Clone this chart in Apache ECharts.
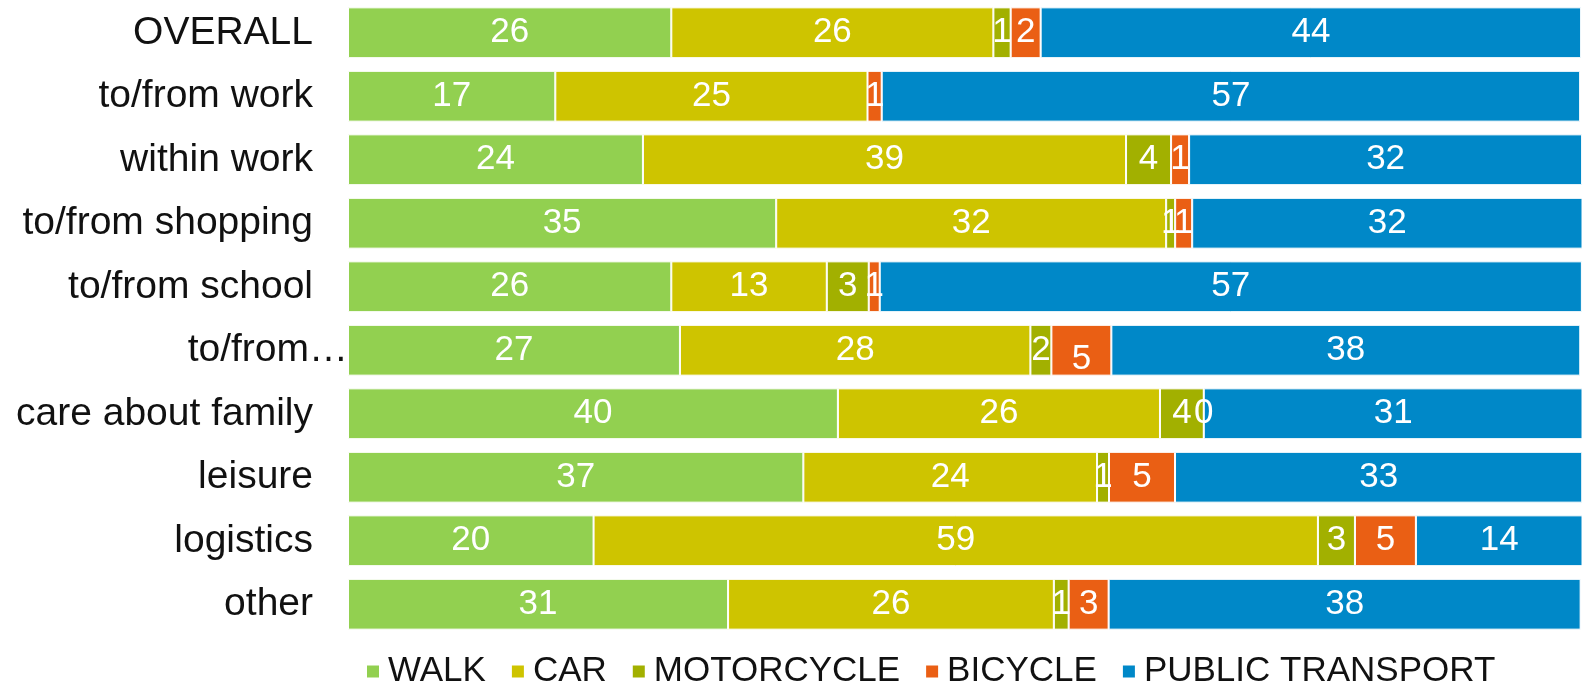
<!DOCTYPE html>
<html>
<head>
    <meta charset="utf-8" />
    <script src="https://cdn.jsdelivr.net/npm/echarts@6.0.0/dist/echarts.min.js"></script>
    <style>
        body {
            margin: 0px;
            overflow: hidden;
            background: #fff;
        }

        #main {
            width: 1582px;
            height: 686px;
        }
    </style>
</head>

<body>
    <div id="main"></div>
</body>

<script type="text/javascript">
    // trip purposes, top to bottom
    var categories = ['OVERALL', 'to/from work', 'within work', 'to/from shopping', 'to/from school',
        'to/from…', 'care about family', 'leisure', 'logistics', 'other'];
    // shares in % (labels show them rounded)
    var walk = [26.2, 16.8, 23.9, 34.7, 26.2, 26.9, 39.7, 36.9, 19.9, 30.8];
    var car = [26.1, 25.3, 39.15, 31.6, 12.6, 28.4, 26.1, 23.8, 58.7, 26.4];
    var motorcycle = [1.4, null, 3.65, 0.73, 3.4, 1.7, 3.55, 0.97, 3.0, 1.2];
    var bicycle = [2.43, 1.15, 1.46, 1.38, 0.89, 4.86, 0, 5.35, 4.94, 3.24];
    var publicTransport = [43.8, 56.6, 31.85, 31.7, 56.9, 38.0, 30.8, 33.0, 13.6, 38.25];

    var seriesNames = ['WALK', 'CAR', 'MOTORCYCLE', 'BICYCLE', 'PUBLIC TRANSPORT'];
    var seriesData = [walk, car, motorcycle, bicycle, publicTransport];
    var colors = ['#92D050', '#CEC400', '#A2B000', '#EA5F14', '#0088C8'];

    var font = "'Liberation Sans', Arial, sans-serif";

    var chart = echarts.init(document.getElementById('main'));

    var series = seriesNames.map(function (name, i) {
        var data = seriesData[i].map(function (v, j) {
            // in the original the bicycle label of the 6th row sits a bit low
            if (name === 'BICYCLE' && j === 5) {
                return { value: v, label: { offset: [0, 9] } };
            }
            return v;
        });
        return {
            name: name,
            type: 'bar',
            stack: 'total',
            barCategoryGap: '20%',
            data: data,
            itemStyle: {
                color: colors[i],
                borderColor: '#fff',
                borderWidth: 1
            },
            label: {
                show: true,
                position: 'inside',
                color: '#fff',
                fontFamily: font,
                fontSize: 35,
                formatter: function (p) {
                    if (p.value === null || p.value === undefined) return '';
                    return Math.round(p.value);
                }
            }
        };
    });

    var option = {
        animation: false,
        color: colors,
        grid: {
            left: 348,
            right: -2,
            top: 1,
            bottom: 50
        },
        legend: {
            left: 360,
            top: 649,
            icon: 'rect',
            itemWidth: 14,
            itemHeight: 14,
            itemGap: 24,
            textStyle: {
                fontFamily: font,
                fontSize: 35,
                color: '#111',
                padding: [0, 0, 0, 3]
            },
            data: seriesNames
        },
        xAxis: {
            type: 'value',
            min: 0,
            max: 100,
            show: false
        },
        yAxis: {
            type: 'category',
            inverse: true,
            data: categories,
            axisLine: { show: false },
            axisTick: { show: false },
            axisLabel: {
                margin: 0,
                color: '#111',
                fontFamily: font,
                fontSize: 39,
                formatter: function (v) {
                    // the truncated label sits right against the bars
                    return v.indexOf('…') >= 0 ? '{e|' + v + '}' : '{n|' + v + '}';
                },
                rich: {
                    n: { fontFamily: font, fontSize: 39, color: '#111', padding: [0, 35, 0, 0] },
                    e: { fontFamily: font, fontSize: 39, color: '#111', padding: [0, 0, 0, 0] }
                }
            }
        },
        series: series
    };

    chart.setOption(option);
</script>

</html>
